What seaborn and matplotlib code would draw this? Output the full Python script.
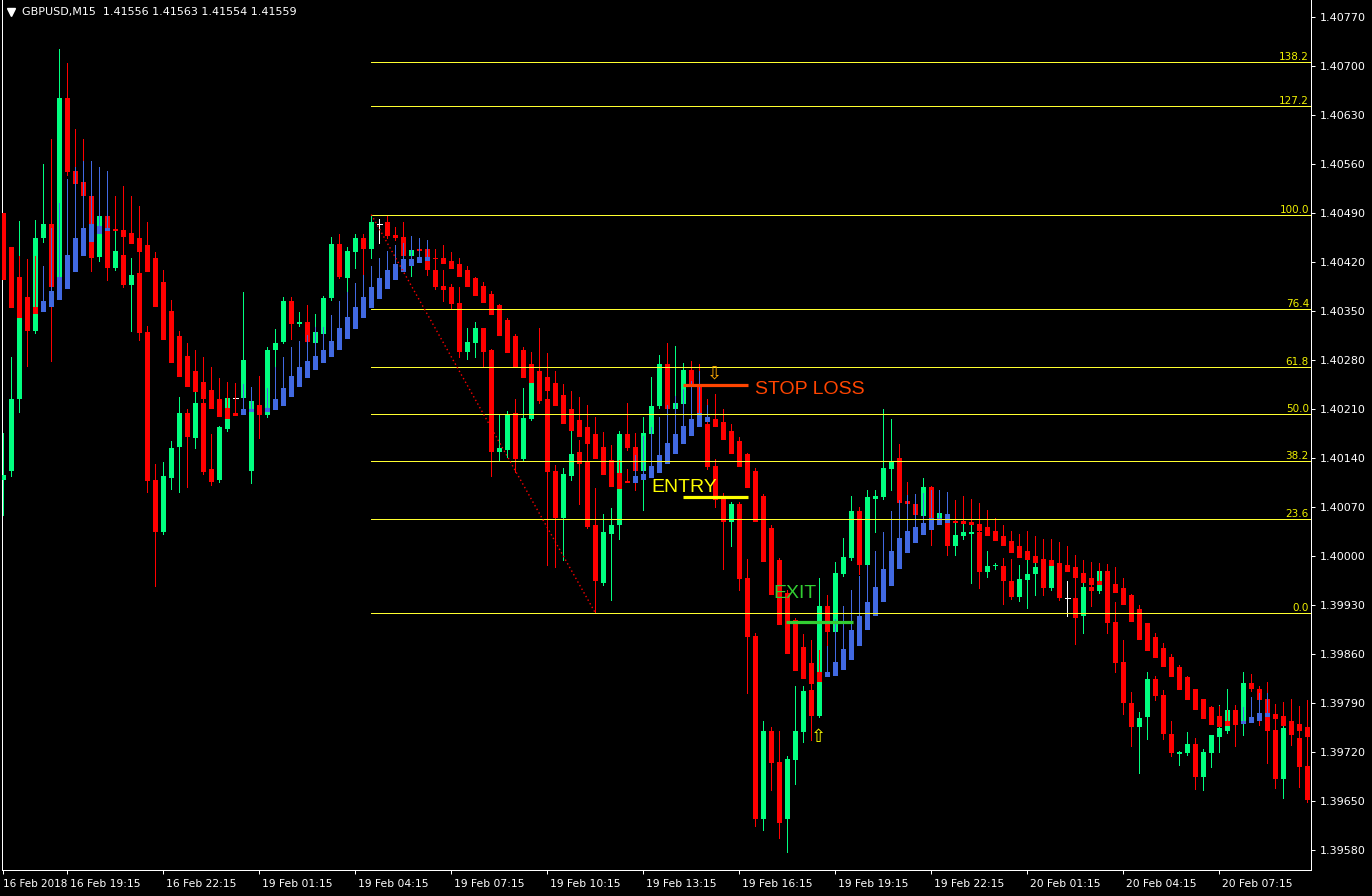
import numpy as np
import pandas as pd
import matplotlib
matplotlib.use("Agg")
import matplotlib.pyplot as plt
import matplotlib.transforms as mtransforms
from matplotlib.lines import Line2D
import seaborn as sns

# ---------------- data (prices in pipettes, /1e5 below) ----------------
symbol_info = "GBPUSD,M15  1.41556 1.41563 1.41554 1.41559"

price_open = np.array([
    140108, 140121, 140223, 140370, 140321, 140453, 140473, 140398, 140654, 140550,
    140533, 140514, 140427, 140485, 140411, 140430, 140387, 140403, 140320, 140108,
    140034, 140111, 140155, 140203, 140168, 140218, 140123, 140108, 140181, 140225,
    140225, 140121, 140215, 140201, 140293, 140305, 140364, 140331, 140334, 140304,
    140317, 140368, 140445, 140397, 140434, 140453, 140438, 140474, 140477, 140458,
    140455, 140428, 140438, 140438, 140408, 140385, 140383, 140361, 140291, 140304,
    140325, 140293, 140148, 140151, 140203, 140138, 140195, 140261, 140224, 140121,
    140054, 140114, 140148, 140134, 140044, 139961, 140031, 140044, 140174, 140155,
    140121, 140174, 140214, 140274, 140210, 140217, 140265, 140244, 140188, 140128,
    140084, 140048, 140074, 139968, 139885, 139624, 139750, 139705, 139623, 139708,
    139748, 139808, 139771, 139928, 139891, 139974, 139997, 140063, 139987, 140081,
    140084, 140124, 140140, 140078, 140074, 140057, 140098, 140053, 140060, 140014,
    140028, 140031, 140034, 139977, 139985, 139985, 139963, 139941, 139965, 139974,
    139995, 139954, 139990, 139940, 139940, 139913, 139955, 139950, 139978, 139905,
    139848, 139790, 139755, 139770, 139823, 139801, 139745, 139717, 139718, 139731,
    139684, 139718, 139741, 139750, 139780, 139764, 139818, 139810, 139795, 139751,
    139681, 139764, 139740, 139700]) / 1e5

price_high = np.array([
    140175, 140283, 140478, 140424, 140480, 140560, 140595, 140724, 140703, 140610,
    140595, 140523, 140488, 140491, 140475, 140528, 140425, 140500, 140328, 140131,
    140133, 140163, 140227, 140210, 140233, 140284, 140173, 140185, 140228, 140231,
    140377, 140241, 140257, 140298, 140324, 140370, 140370, 140348, 140358, 140345,
    140371, 140455, 140460, 140441, 140460, 140460, 140487, 140481, 140485, 140470,
    140477, 140457, 140453, 140451, 140438, 140408, 140388, 140384, 140325, 140333,
    140325, 140295, 140201, 140207, 140223, 140240, 140251, 140325, 140290, 140130,
    140125, 140178, 140165, 140165, 140097, 140060, 140068, 140178, 140218, 140175,
    140198, 140255, 140287, 140303, 140300, 140275, 140278, 140274, 140224, 140138,
    140090, 140077, 140077, 139995, 139890, 139763, 139755, 139750, 139714, 139813,
    139813, 139880, 139968, 139943, 139991, 140025, 140085, 140070, 140093, 140093,
    140210, 140195, 140160, 140105, 140088, 140111, 140100, 140093, 140091, 140060,
    140085, 140043, 140075, 140007, 139990, 139997, 139995, 139987, 140035, 140028,
    140023, 140023, 140020, 139963, 140001, 139994, 139991, 139990, 139988, 139933,
    139880, 139805, 139777, 139833, 139828, 139808, 139763, 139721, 139748, 139740,
    139723, 139744, 139787, 139810, 139787, 139833, 139831, 139813, 139820, 139788,
    139791, 139795, 139785, 139794]) / 1e5

price_low = np.array([
    140058, 140114, 140205, 140271, 140318, 140448, 140278, 140380, 140544, 140528,
    140510, 140407, 140421, 140394, 140408, 140383, 140321, 140308, 140091, 139957,
    140031, 140095, 140091, 140098, 140153, 140117, 140101, 140105, 140178, 140220,
    140223, 140104, 140168, 140198, 140270, 140303, 140310, 140328, 140303, 140301,
    140314, 140365, 140397, 140377, 140411, 140401, 140425, 140447, 140454, 140451,
    140425, 140400, 140433, 140401, 140381, 140364, 140354, 140283, 140281, 140284,
    140270, 140114, 140135, 140141, 140120, 140137, 140193, 140218, 139987, 139984,
    139993, 140108, 140073, 140040, 139918, 139958, 139937, 140023, 140151, 140094,
    140065, 140171, 140211, 140207, 140180, 140214, 140238, 140198, 140124, 140070,
    139981, 140013, 139951, 139804, 139613, 139608, 139665, 139597, 139577, 139674,
    139733, 139737, 139770, 139871, 139888, 139971, 139994, 139974, 139984, 140034,
    140081, 140094, 140073, 140070, 140055, 140054, 140015, 140050, 140001, 140001,
    140023, 139961, 139954, 139970, 139981, 139931, 139938, 139935, 139925, 139944,
    139943, 139951, 139937, 139914, 139874, 139890, 139928, 139947, 139890, 139834,
    139774, 139728, 139690, 139738, 139793, 139738, 139713, 139701, 139715, 139667,
    139665, 139698, 139720, 139747, 139728, 139744, 139807, 139758, 139704, 139668,
    139653, 139730, 139670, 139648]) / 1e5

price_close = np.array([
    140115, 140224, 140340, 140321, 140453, 140474, 140384, 140653, 140548, 140531,
    140513, 140425, 140485, 140411, 140435, 140387, 140401, 140318, 140107, 140034,
    140113, 140153, 140203, 140170, 140218, 140120, 140105, 140183, 140225, 140225,
    140280, 140221, 140201, 140293, 140304, 140364, 140331, 140334, 140305, 140320,
    140368, 140445, 140398, 140435, 140453, 140438, 140477, 140474, 140457, 140454,
    140428, 140437, 140435, 140408, 140384, 140380, 140360, 140291, 140305, 140325,
    140291, 140148, 140153, 140201, 140138, 140197, 140247, 140221, 140120, 140054,
    140117, 140145, 140131, 140041, 139963, 140033, 140044, 140173, 140154, 140121,
    140175, 140214, 140274, 140210, 140218, 140265, 140241, 140201, 140127, 140080,
    140048, 140074, 139967, 139884, 139624, 139750, 139704, 139618, 139710, 139750,
    139807, 139771, 139928, 139891, 139975, 139998, 140063, 139987, 140083, 140085,
    140125, 140133, 140075, 140073, 140058, 140098, 140053, 140061, 140013, 140030,
    140033, 140034, 139977, 139985, 139987, 139963, 139941, 139967, 139973, 139984,
    139954, 139985, 139940, 139940, 139911, 139955, 139950, 139978, 139904, 139847,
    139790, 139755, 139768, 139823, 139800, 139745, 139718, 139720, 139731, 139684,
    139720, 139743, 139753, 139780, 139763, 139818, 139810, 139794, 139750, 139681,
    139754, 139743, 139698, 139651]) / 1e5

# Heiken Ashi smoothed indicator
ha_open = np.array([
    140490, 140441, 140398, 140368, 140355, 140348, 140355, 140365, 140381, 140405,
    140428, 140448, 140460, 140464, 140467, 140465, 140461, 140454, 140444, 140425,
    140391, 140350, 140314, 140285, 140264, 140248, 140237, 140224, 140211, 140204,
    140201, 140205, 140210, 140205, 140208, 140214, 140227, 140241, 140254, 140265,
    140275, 140283, 140294, 140310, 140324, 140340, 140354, 140367, 140381, 140394,
    140405, 140413, 140418, 140421, 140425, 140425, 140421, 140417, 140408, 140397,
    140385, 140374, 140358, 140337, 140314, 140293, 140274, 140263, 140255, 140247,
    140230, 140210, 140194, 140183, 140173, 140155, 140137, 140118, 140107, 140104,
    140108, 140111, 140118, 140131, 140145, 140160, 140171, 140183, 140191, 140195,
    140191, 140178, 140163, 140145, 140121, 140085, 140040, 139993, 139947, 139908,
    139870, 139847, 139833, 139826, 139828, 139837, 139851, 139871, 139893, 139913,
    139934, 139957, 139981, 140003, 140018, 140030, 140037, 140043, 140047, 140050,
    140050, 140048, 140045, 140041, 140035, 140028, 140021, 140014, 140007, 140000,
    139995, 139993, 139990, 139987, 139983, 139975, 139968, 139964, 139961, 139960,
    139954, 139943, 139924, 139903, 139884, 139868, 139855, 139841, 139826, 139810,
    139795, 139783, 139771, 139764, 139763, 139760, 139761, 139764, 139770, 139773,
    139771, 139764, 139760, 139755]) / 1e5

ha_close = np.array([
    140393, 140354, 140340, 140344, 140345, 140364, 140378, 140398, 140430, 140454,
    140468, 140473, 140471, 140468, 140463, 140455, 140445, 140433, 140405, 140355,
    140308, 140275, 140255, 140241, 140233, 140224, 140210, 140198, 140195, 140200,
    140210, 140210, 140205, 140211, 140223, 140240, 140257, 140270, 140278, 140285,
    140293, 140307, 140325, 140341, 140355, 140370, 140383, 140397, 140408, 140417,
    140423, 140424, 140427, 140427, 140423, 140417, 140410, 140398, 140384, 140371,
    140361, 140343, 140314, 140290, 140270, 140254, 140247, 140240, 140235, 140213,
    140188, 140178, 140170, 140160, 140138, 140115, 140098, 140095, 140104, 140113,
    140117, 140128, 140144, 140161, 140174, 140185, 140195, 140203, 140198, 140184,
    140165, 140145, 140127, 140097, 140048, 139991, 139944, 139901, 139860, 139835,
    139823, 139817, 139820, 139833, 139848, 139867, 139893, 139914, 139934, 139955,
    139981, 140007, 140025, 140035, 140041, 140047, 140053, 140053, 140060, 140047,
    140045, 140043, 140035, 140028, 140021, 140013, 140004, 139997, 139993, 139990,
    139985, 139985, 139980, 139977, 139968, 139961, 139958, 139958, 139951, 139947,
    139930, 139905, 139880, 139863, 139853, 139841, 139826, 139808, 139794, 139780,
    139767, 139758, 139755, 139757, 139758, 139764, 139770, 139775, 139775, 139767,
    139757, 139754, 139750, 139741]) / 1e5

ha_high = np.array([
    140490, 140441, 140428, 140423, 140428, 140414, 140468, 140504, 140538, 140555,
    140563, 140563, 140555, 140550, 140513, 140528, 140513, 140500, 140477, 140434,
    140408, 140365, 140321, 140303, 140293, 140284, 140270, 140254, 140248, 140247,
    140245, 140241, 140257, 140240, 140270, 140284, 140298, 140307, 140315, 140327,
    140327, 140344, 140363, 140377, 140390, 140401, 140414, 140425, 140435, 140443,
    140447, 140457, 140453, 140451, 140438, 140443, 140434, 140425, 140413, 140398,
    140391, 140378, 140360, 140340, 140317, 140298, 140291, 140280, 140271, 140263,
    140245, 140235, 140227, 140215, 140198, 140177, 140158, 140137, 140123, 140143,
    140171, 140183, 140198, 140215, 140228, 140238, 140250, 140263, 140215, 140231,
    140210, 140188, 140170, 140147, 140125, 140088, 140044, 139997, 139951, 139911,
    139888, 139880, 139865, 139871, 139910, 139928, 139951, 139971, 139987, 140007,
    140034, 140063, 140080, 140087, 140088, 140090, 140093, 140093, 140091, 140080,
    140085, 140081, 140075, 140065, 140054, 140044, 140035, 140031, 140035, 140028,
    140023, 140023, 140020, 140013, 140001, 139994, 139991, 139990, 139988, 139983,
    139968, 139945, 139930, 139904, 139890, 139875, 139860, 139843, 139828, 139810,
    139795, 139785, 139785, 139780, 139787, 139783, 139798, 139804, 139804, 139788,
    139791, 139795, 139785, 139794]) / 1e5

time_label_idx = [0, 8, 20, 32, 44, 56, 68, 80, 92, 104, 116, 128, 140, 152]
time_labels = ["16 Feb 2018", "16 Feb 19:15", "16 Feb 22:15", "19 Feb 01:15",
               "19 Feb 04:15", "19 Feb 07:15", "19 Feb 10:15", "19 Feb 13:15",
               "19 Feb 16:15", "19 Feb 19:15", "19 Feb 22:15", "20 Feb 01:15",
               "20 Feb 04:15", "20 Feb 07:15"]
price_ticks = [1.39580, 1.39650, 1.39720, 1.39790, 1.39860, 1.39930, 1.40000,
               1.40070, 1.40140, 1.40210, 1.40280, 1.40350, 1.40420, 1.40490,
               1.40560, 1.40630, 1.40700, 1.40770]

fib_ratios = [0.0, 23.6, 38.2, 50.0, 61.8, 76.4, 100.0, 127.2, 138.2]
fib_high_idx, fib_low_idx = 46, 74

stop_loss_price = 1.402436
entry_price = 1.400836
exit_price = 1.399050

# ---------------- layout / style ----------------
W, H = 1372, 896
GREEN = "#00ff80"
RED = "#ff0000"
BLUE = "#4169e1"
FIB_COLOR = "#ffff30"
FIB_TEXT = "#f0f000"

sns.set_theme(style="dark", rc={"axes.facecolor": "black", "figure.facecolor": "black",
                                "axes.grid": False})
plt.rcParams['font.family'] = ['DejaVu Sans']

df = pd.DataFrame({"open": price_open, "high": price_high, "low": price_low,
                   "close": price_close, "ha_open": ha_open, "ha_close": ha_close,
                   "ha_high": ha_high})
df["idx"] = np.arange(len(df))

fig = plt.figure(figsize=(W / 100, H / 100), dpi=100)
fig.patch.set_facecolor("black")
ax = fig.add_axes([2 / W, 26 / H, 1309 / W, 870 / H])
ax.set_facecolor("black")

XMIN, XMAX = -0.1625, 163.4625
YMAX = 1.40770 + 16.5 / 70000
YMIN = YMAX - 870 / 70000
ax.set_xlim(XMIN, XMAX)
ax.set_ylim(YMIN, YMAX)

px = 1 / 70000.0
lw1 = 0.72
body_w = 0.625
idx = df["idx"].values
o, c, hi, lo = df["open"].values, df["close"].values, df["high"].values, df["low"].values

is_doji = np.isclose(o, c)
is_up = (c > o) & ~is_doji
wick_cols = np.where(is_doji, "white", np.where(is_up, GREEN, RED))

# real candles
ax.vlines(idx, lo, hi, colors=wick_cols, linewidth=lw1, antialiased=False, zorder=2)
nd = ~is_doji
body_bottom = np.minimum(o, c)
body_h = np.maximum(np.abs(c - o), 1.2 * px)
ax.bar(idx[nd], body_h[nd], bottom=body_bottom[nd], width=body_w,
       color=wick_cols[nd], linewidth=0, antialiased=False, zorder=3)
ax.hlines(o[is_doji], idx[is_doji] - body_w / 2, idx[is_doji] + body_w / 2,
          colors="white", linewidth=lw1, antialiased=False, zorder=3)

# Heiken Ashi smoothed bars
hao, hac, hah = df["ha_open"].values, df["ha_close"].values, df["ha_high"].values
ha_cols = np.where(hac > hao, BLUE, RED)
ha_top = np.maximum(hao, hac)
ax.vlines(idx, ha_top, np.maximum(hah, ha_top), colors=ha_cols, linewidth=lw1,
          antialiased=False, zorder=4)
ax.bar(idx, np.maximum(np.abs(hac - hao), 1.2 * px), bottom=np.minimum(hao, hac),
       width=body_w, color=ha_cols, linewidth=0, antialiased=False, zorder=5)

# Fibonacci retracement
fib_high = price_high[fib_high_idx]
fib_low = price_low[fib_low_idx]
fib_prices = fib_low + (fib_high - fib_low) * np.array(fib_ratios) / 100.0
ax.hlines(fib_prices, fib_high_idx, XMAX, colors=FIB_COLOR, linewidth=lw1,
          antialiased=False, zorder=6)
txt_off = mtransforms.offset_copy(ax.transData, fig=fig, x=0, y=2, units="dots")
for r, p in zip(fib_ratios, fib_prices):
    ax.text(163.2, p, f"{r:.1f}", color=FIB_TEXT, fontsize=7.5, ha="right",
            va="baseline", transform=txt_off, zorder=7)

trend = pd.DataFrame({"x": [fib_high_idx, fib_low_idx], "y": [fib_high, fib_low]})
sns.lineplot(data=trend, x="x", y="y", ax=ax, color=RED, linewidth=1.0, zorder=6)
ax.lines[-1].set_dashes([1, 2])

# trade annotations
ax.hlines(stop_loss_price, 85.0, 93.1, colors="#ff4500", linewidth=2.3, zorder=8)
ax.hlines(entry_price, 85.0, 93.1, colors="#ffff00", linewidth=2.3, zorder=8)
ax.hlines(exit_price, 97.8, 106.2, colors="#32cd32", linewidth=2.3, zorder=8)
ax.text(93.96, 1.402307, "STOP LOSS", color="#ff4500", fontsize=14,
        family=["Liberation Sans"], ha="left", va="baseline", zorder=8)
ax.text(80.96, 1.400907, "ENTRY", color="#ffff00", fontsize=14,
        family=["Liberation Sans"], ha="left", va="baseline", zorder=8)
ax.text(96.2, 1.399393, "EXIT", color="#32cd32", fontsize=14,
        family=["Liberation Sans"], ha="left", va="baseline", zorder=8)
ax.text(88.84, 1.402593, "\u21e9", color="#ffaa00", fontsize=13, ha="center",
        va="center", zorder=8)
ax.text(101.9, 1.397407, "\u21e7", color="#ffff00", fontsize=13, ha="center",
        va="center", zorder=8)

# axes styling
for side in ["left", "right", "bottom"]:
    ax.spines[side].set_color("white")
    ax.spines[side].set_linewidth(lw1)
    ax.spines[side].set_visible(True)
ax.spines["top"].set_visible(False)
ax.grid(False)

ax.yaxis.tick_right()
ax.set_yticks(price_ticks)
ax.set_yticklabels([f"{v:.5f}" for v in price_ticks])
ax.tick_params(axis="y", which="both", colors="white", labelcolor="white",
               length=3.2, width=lw1, pad=3.5, labelsize=8, left=False, right=True)
ax.set_xticks(time_label_idx)
ax.set_xticklabels([])
ax.tick_params(axis="x", which="both", colors="white", length=3.2, width=lw1,
               bottom=True, top=False)
for j, (k, lab) in enumerate(zip(time_label_idx, time_labels)):
    tr = mtransforms.offset_copy(ax.get_xaxis_transform(), fig=fig,
                                 x=(0 if j == 0 else 3), y=-14, units="dots")
    ax.text(k, 0, lab, color="white", fontsize=(7.5 if j == 0 else 7.75),
            ha="left", va="center", transform=tr, clip_on=False)
ax.set_xlabel("")
ax.set_ylabel("")

# header
fig.add_artist(Line2D([10.5 / W], [1 - 12.5 / H], marker="v", markersize=6,
                      color="white", linestyle="none", transform=fig.transFigure))
fig.text(22 / W, 1 - 12.5 / H, symbol_info, color="white", fontsize=8,
         ha="left", va="center")

fig.savefig("out.png", dpi=100, facecolor="black")
